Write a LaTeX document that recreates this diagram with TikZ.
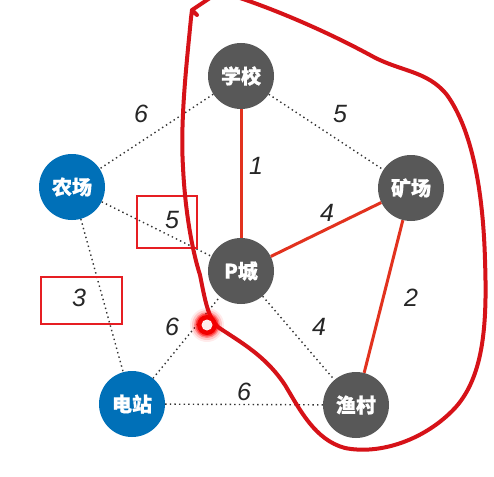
\documentclass[tikz,border=0pt]{standalone}
\usepackage{fontspec}
\setmainfont{Liberation Sans}
\newfontfamily\cjk{Noto Sans CJK SC}[FakeBold=0.8]
\definecolor{nodegray}{RGB}{88,88,88}
\definecolor{nodeblue}{RGB}{0,112,184}
\definecolor{edgered}{RGB}{226,50,30}
\definecolor{penred}{RGB}{214,18,24}
\definecolor{boxred}{RGB}{230,30,35}
\tikzset{
  city/.style={circle,fill=nodegray,minimum size=66pt,inner sep=0pt,text=white,font=\cjk\bfseries\fontsize{20}{20}\selectfont},
  bcity/.style={city,fill=nodeblue},
  dot/.style={line width=1.4pt,black!80,dash pattern=on 1.4pt off 3.2pt},
  chosen/.style={edgered,line width=3pt},
  wt/.style={font=\itshape\fontsize{25}{25}\selectfont,text=black!85},
  markbox/.style={draw=boxred,line width=1.4pt},
  pen/.style={penred,line width=4pt,line cap=round,line join=round}
}
\begin{document}
\begin{tikzpicture}[x=1pt,y=-1pt]
\useasboundingbox (0,0) rectangle (494,476);
\fill[white] (0,0) rectangle (494,476);
% nodes
\node[city] (school) at (241,76) {学校};
\node[bcity] (farm) at (72,187) {农场};
\node[city] (mine) at (411,188) {矿场};
\node[city] (p) at (241,271) {P城};
\node[bcity] (power) at (132,404) {电站};
\node[city] (fish) at (356,405) {渔村};
% dotted edges
\draw[dot] (school) -- (farm);
\draw[dot] (school) -- (mine);
\draw[dot] (farm) -- (p);
\draw[dot] (farm) -- (power);
\draw[dot] (power) -- (p);
\draw[dot] (p) -- (fish);
\draw[dot] (power) -- (fish);
% chosen edges
\draw[chosen] (school) -- (p);
\draw[chosen] (p) -- (mine);
\draw[chosen] (mine) -- (fish);
% weights
\node[wt] (w1) at (141,114) {6};
\node[wt] (w2) at (340,114) {5};
\node[wt] (w3) at (256,166) {1};
\node[wt] (w4) at (327,213) {4};
\node[wt] (w5) at (172,220) {5};
\node[wt] (w6) at (79,298) {3};
\node[wt] (w7) at (411,298) {2};
\node[wt] (w8) at (172,327) {6};
\node[wt] (w9) at (319,327) {4};
\node[wt] (w10) at (244,392) {6};
% boxes
\draw[markbox] (137,196) rectangle (197,248);
\draw[markbox] (41,277) rectangle (122,324);
% freehand pen curve
\draw[pen] (197,15) -- (192,10) -- (191,18) .. controls (187,60) and (180,120) .. (183,167)
  .. controls (185,210) and (192,250) .. (200,275)
  .. controls (205,300) and (208,318) .. (218,327)
  .. controls (240,342) and (265,355) .. (285,385)
  .. controls (300,410) and (315,440) .. (345,448)
  .. controls (380,455) and (425,440) .. (455,408)
  .. controls (485,375) and (487,320) .. (485,260)
  .. controls (483,190) and (472,130) .. (447,95)
  .. controls (427,70) and (400,72) .. (370,55)
  .. controls (320,28) and (270,8) .. (240,-2);
\draw[pen] (192,10) -- (210,-2);
% red glowing dot
\foreach \r/\o in {17/0.08,15/0.15,13/0.3,11.5/0.5}{\fill[red,opacity=\o] (207,325) circle (\r);}
\fill[red!95!black] (207,325) circle (10);
\fill[red!8!white] (207,325) circle (5.5);
\end{tikzpicture}
\end{document}
